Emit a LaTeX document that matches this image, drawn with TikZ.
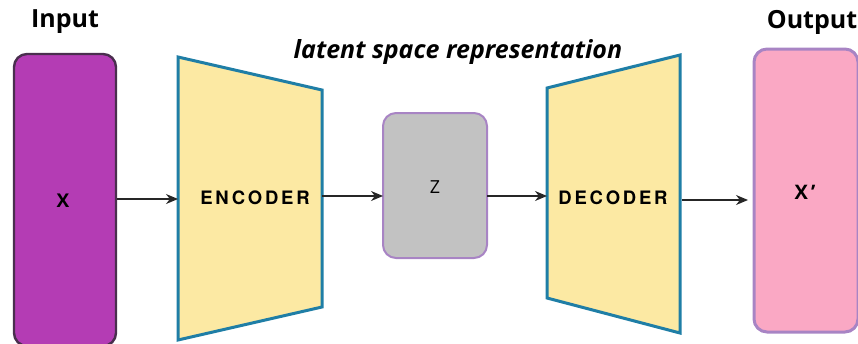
\documentclass[tikz,border=0pt]{standalone}
\usepackage{fontspec}
\setmainfont{Open Sans}
\newfontfamily\capsfont[LetterSpace=15]{TeX Gyre Heros}
\usetikzlibrary{arrows.meta}
\definecolor{inpurple}{HTML}{B43CB4}
\definecolor{inborder}{HTML}{4A2E4E}
\definecolor{trapfill}{HTML}{FCE9A3}
\definecolor{trapline}{HTML}{1F7EA6}
\definecolor{zfill}{HTML}{C2C2C2}
\definecolor{lavender}{HTML}{A884C4}
\definecolor{outpink}{HTML}{FAA8C4}
\tikzset{
  iobox/.style={draw, rounded corners=13pt, line width=2.4pt},
  trap/.style={draw=trapline, fill=trapfill, line width=3pt, line join=miter},
  conn/.style={draw=black!85, line width=1.2pt, -{Stealth[length=12pt,width=10pt]}},
  title/.style={font=\bfseries\fontsize{25}{28}\selectfont, inner sep=0pt},
  capslbl/.style={font=\capsfont\bfseries\fontsize{18.5}{20}\selectfont, inner sep=0pt},
}
\begin{document}
\begin{tikzpicture}[x=1pt,y=-1pt]
\useasboundingbox (0,0) rectangle (858,343);
% input
\draw[iobox, fill=inpurple, draw=inborder] (14,54) rectangle (116,346);
\node (in) at (63,201) [font=\bfseries\fontsize{19}{21}\selectfont, inner sep=0pt] {X};
\node[title] (inlbl) at (65,22) {Input};
% encoder
\draw[trap] (178,57) -- (322,90) -- (322,307) -- (178,340) -- cycle;
\coordinate (encL) at (178,199);
\coordinate (encR) at (322,196);
\node[capslbl] (enc) at (255,198) {ENCODER};
% z
\draw[iobox, fill=zfill, draw=lavender, line width=2pt] (383,113) rectangle (487,258);
\node (z) at (435,187) [font=\fontsize{18}{20}\selectfont, inner sep=0pt] {Z};
\coordinate (zL) at (383,196);
\coordinate (zR) at (487,196);
% decoder
\draw[trap] (547,88) -- (680,55) -- (680,333) -- (547,298) -- cycle;
\coordinate (decL) at (547,196);
\coordinate (decR) at (682,200);
\node[capslbl] (dec) at (613,198) {DECODER};
% output
\draw[iobox, fill=outpink, draw=lavender, line width=3pt] (754,49) rectangle (858,332);
\node (out) at (805,192) [font=\bfseries\fontsize{20}{22}\selectfont, inner sep=0pt] {X\,\char"27};
\coordinate (outL) at (748,200);
\node[title] (outlbl) at (812,22) {Output};
% latent title
\node[title, font=\bfseries\itshape\fontsize{25}{28}\selectfont] (lat) at (458,52) {latent space representation};
% connectors
\coordinate (inR) at (117,199);
\draw[conn] (inR) -- (encL);
\draw[conn] (encR) -- (zL);
\draw[conn] (zR) -- (decL);
\draw[conn] (decR) -- (outL);
\end{tikzpicture}
\end{document}
